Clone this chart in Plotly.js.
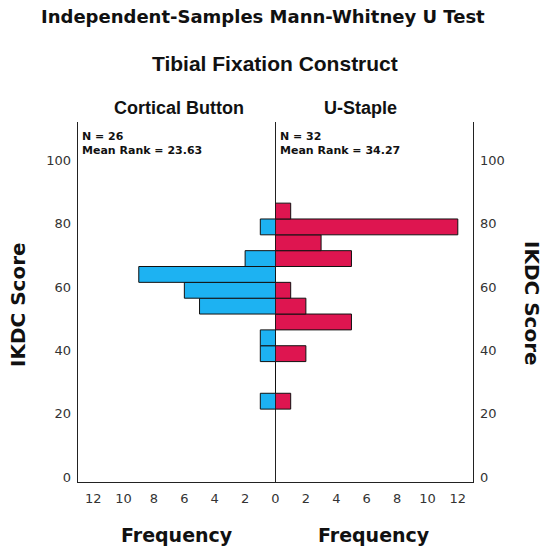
<!DOCTYPE html>
<html>
<head>
<meta charset="utf-8">
<script src="https://cdn.plot.ly/plotly-3.0.1.min.js"></script>
<style>html,body{margin:0;padding:0;background:#fff;}#chart{width:550px;height:553px;}</style>
</head>
<body>
<div id="chart"></div>
<script>
// Bin centers of IKDC score (bin width 5)
const binCenters = [24, 29, 34, 39, 44, 49, 54, 59, 64, 69, 74, 79, 84];
const corticalButton = [1, 0, 0, 1, 1, 0, 5, 6, 9, 2, 0, 1, 0];
const uStaple =        [1, 0, 0, 2, 0, 5, 2, 1, 0, 5, 3, 12, 1];
const groupNames = ['Cortical Button', 'U-Staple'];
const groupN = [26, 32];
const meanRanks = ['23.63', '34.27'];
const yTicks = [0, 20, 40, 60, 80, 100];
const xTicksLeft = [2, 4, 6, 8, 10, 12];
const xTicksRight = [0, 2, 4, 6, 8, 10, 12];

const SPSS = 'DejaVu Sans, Verdana, sans-serif';
const ARIAL = 'Liberation Sans, Arial, sans-serif';

const traces = [
  {type:'bar', orientation:'h', y: binCenters, x: corticalButton, width: 5,
   xaxis:'x', yaxis:'y',
   marker:{color:'#1DB2F2', line:{color:'#111', width:1}}, hoverinfo:'x+y'},
  {type:'bar', orientation:'h', y: binCenters, x: uStaple, width: 5,
   xaxis:'x2', yaxis:'y2',
   marker:{color:'#DE1550', line:{color:'#111', width:1}}, hoverinfo:'x+y'}
];

const tickFont = {family: SPSS, size: 13, color: '#333'};
const yRange = [-1.5, 112.1];

const layout = {
  width: 550, height: 553,
  margin: {l: 78, r: 77, t: 122, b: 71},
  paper_bgcolor: '#fff', plot_bgcolor: '#fff',
  showlegend: false, bargap: 0,
  xaxis: {domain:[0,0.5], range:[13,0], tickvals: xTicksLeft, ticks:'', showgrid:false,
          zeroline:true, zerolinecolor:'#222', zerolinewidth:1.3,
          showline:true, linecolor:'#222', linewidth:1.3, tickfont: tickFont, ticklabelstandoff: 4, fixedrange:true},
  xaxis2: {domain:[0.5,1], range:[0,13], tickvals: xTicksRight, ticks:'', showgrid:false,
          zeroline:false, showline:true, linecolor:'#222', linewidth:1.3, tickfont: tickFont, ticklabelstandoff: 4, fixedrange:true, anchor:'y2'},
  yaxis: {range: yRange, tickvals: yTicks, ticks:'', showgrid:false, zeroline:false,
          showline:true, linecolor:'#222', linewidth:1.3, tickfont: tickFont, ticklabelstandoff: 3, anchor:'x', fixedrange:true},
  yaxis2: {range: yRange, tickvals: yTicks, ticks:'', showgrid:false, zeroline:false, side:'right',
          showline:true, linecolor:'#222', linewidth:1.3, tickfont: tickFont, ticklabelstandoff: 3, anchor:'x2', fixedrange:true},
  annotations: [
    {text:'<b>Independent-Samples Mann-Whitney U Test</b>', showarrow:false, xanchor:'center', yanchor:'middle',
     font:{family:SPSS, size:18, color:'#111'}},
    {text:'<b>Tibial Fixation Construct</b>', showarrow:false, xanchor:'center', yanchor:'middle',
     font:{family:ARIAL, size:21, color:'#111'}},
    {text:'<b>' + groupNames[0] + '</b>', showarrow:false, xanchor:'center', yanchor:'middle',
     font:{family:ARIAL, size:18, color:'#111'}},
    {text:'<b>' + groupNames[1] + '</b>', showarrow:false, xanchor:'center', yanchor:'middle',
     font:{family:ARIAL, size:18, color:'#111'}},
    {text:'<b>N = ' + groupN[0] + '<br>Mean Rank = ' + meanRanks[0] + '</b>', showarrow:false, xanchor:'left', yanchor:'top', align:'left',
     font:{family:SPSS, size:11, color:'#111'}},
    {text:'<b>N = ' + groupN[1] + '<br>Mean Rank = ' + meanRanks[1] + '</b>', showarrow:false, xanchor:'left', yanchor:'top', align:'left',
     font:{family:SPSS, size:11, color:'#111'}},
    {text:'<b>Frequency</b>', showarrow:false, xanchor:'center', yanchor:'middle',
     font:{family:SPSS, size:19, color:'#111'}},
    {text:'<b>Frequency</b>', showarrow:false, xanchor:'center', yanchor:'middle',
     font:{family:SPSS, size:19, color:'#111'}},
    {text:'<b>IKDC Score</b>', showarrow:false, xanchor:'center', yanchor:'middle', textangle:-90,
     font:{family:SPSS, size:20, color:'#111'}},
    {text:'<b>IKDC Score</b>', showarrow:false, xanchor:'center', yanchor:'middle', textangle:90,
     font:{family:SPSS, size:20, color:'#111'}}
  ]
};

// Position annotations in pixel-derived paper coordinates
const W = 550, H = 553, L = 78, R = 77, T = 122, B = 71;
const pw = W - L - R, ph = H - T - B;
function px(xp){ return (xp - L) / pw; }
function py(yp){ return (H - B - yp) / ph; }
const pos = [
  [263, 17], [275, 64], [179, 108], [360, 108],
  [80, 128], [278, 128],
  [177, 535], [374, 535],
  [18, 305], [532, 303]
];
layout.annotations.forEach((a, i) => {
  a.xref = 'paper'; a.yref = 'paper';
  a.x = px(pos[i][0]); a.y = py(pos[i][1]);
});

Plotly.newPlot('chart', traces, layout, {displayModeBar:false, staticPlot:true});
</script>
</body>
</html>
